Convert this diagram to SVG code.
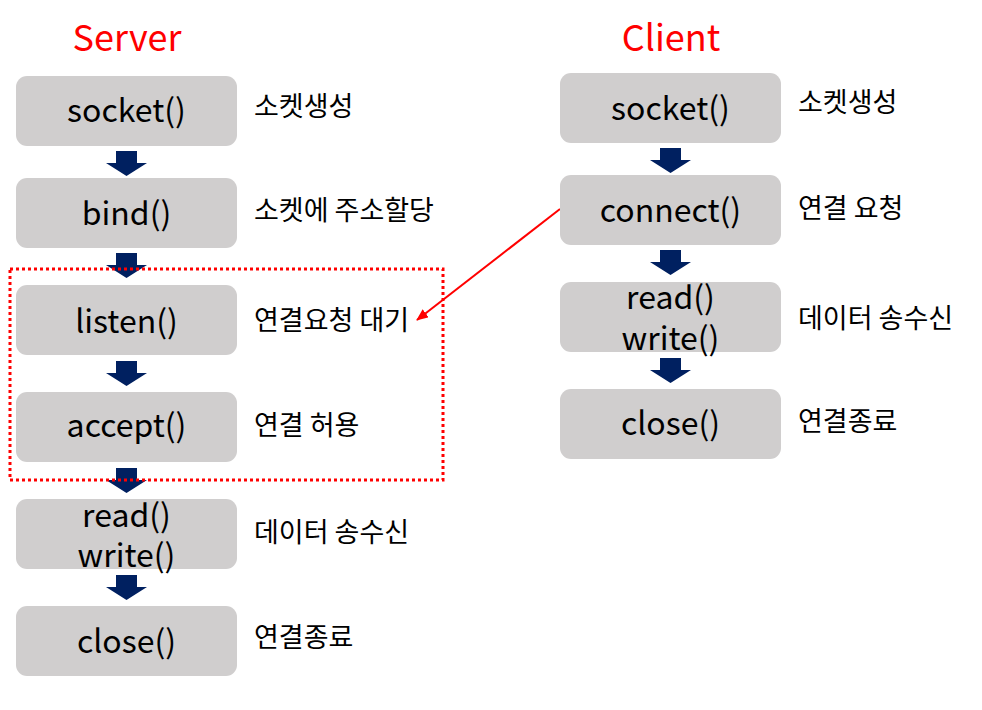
<svg xmlns="http://www.w3.org/2000/svg" xmlns:xlink="http://www.w3.org/1999/xlink" width="982" height="710" viewBox="0 0 982 710">
<style>
.box{fill:#D0CECE}
.fn{font-family:"Noto Sans CJK KR","Noto Sans",sans-serif;font-size:32px;fill:#000;text-anchor:middle}
.lb{font-family:"Noto Sans CJK KR",sans-serif;font-size:27px;fill:#000}
.ttl{font-family:"Noto Sans CJK KR","Noto Sans",sans-serif;font-size:36px;fill:#FF0000;text-anchor:middle}
</style>
<defs>
<path id="darr" d="M-10.5,0 H10.5 V12 H20.5 L0,25 L-20.5,12 H-10.5 Z" fill="#002060"/>
<marker id="ah" markerWidth="12" markerHeight="10" refX="11" refY="5" orient="auto" markerUnits="userSpaceOnUse">
<path d="M0,0 L12,5 L0,10 Z" fill="#FF0000"/>
</marker>
</defs>
<rect width="982" height="710" fill="#fff"/>
<text class="ttl" x="127" y="51">Server</text>
<text class="ttl" x="671" y="51">Client</text>

<g id="connectors">
<use xlink:href="#darr" x="126.5" y="151"/>
<use xlink:href="#darr" x="126.5" y="253"/>
<use xlink:href="#darr" x="126.5" y="361"/>
<use xlink:href="#darr" x="126.5" y="468"/>
<use xlink:href="#darr" x="126.5" y="575"/>
<use xlink:href="#darr" x="670.5" y="148"/>
<use xlink:href="#darr" x="670.5" y="250"/>
<use xlink:href="#darr" x="670.5" y="358"/>
<line x1="560" y1="209" x2="417" y2="320" stroke="#FF0000" stroke-width="2" marker-end="url(#ah)"/>
</g>

<g id="s-socket"><rect class="box" x="16" y="76" width="221" height="70" rx="11"/><text class="fn" x="126.5" y="122">socket()</text><text class="lb" x="254" y="116">소켓생성</text></g>
<g id="s-bind"><rect class="box" x="16" y="178" width="221" height="70" rx="11"/><text class="fn" x="126.5" y="225">bind()</text><text class="lb" x="254" y="220">소켓에 주소할당</text></g>
<g id="s-listen"><rect class="box" x="16" y="285" width="221" height="70" rx="11"/><text class="fn" x="126.5" y="333">listen()</text><text class="lb" x="254" y="330">연결요청 대기</text></g>
<g id="s-accept"><rect class="box" x="16" y="392" width="221" height="70" rx="11"/><text class="fn" x="126.5" y="437">accept()</text><text class="lb" x="254" y="435">연결 허용</text></g>
<g id="s-rw"><rect class="box" x="16" y="499" width="221" height="70" rx="11"/><text class="fn" x="126.5" y="527">read()</text><text class="fn" x="126.5" y="567">write()</text><text class="lb" x="254" y="542">데이터 송수신</text></g>
<g id="s-close"><rect class="box" x="16" y="606" width="221" height="70" rx="11"/><text class="fn" x="126.5" y="653">close()</text><text class="lb" x="254" y="647">연결종료</text></g>

<g id="c-socket"><rect class="box" x="560" y="73" width="221" height="70" rx="11"/><text class="fn" x="670.5" y="120">socket()</text><text class="lb" x="798" y="112">소켓생성</text></g>
<g id="c-connect"><rect class="box" x="560" y="175" width="221" height="70" rx="11"/><text class="fn" x="670.5" y="222">connect()</text><text class="lb" x="798" y="218">연결 요청</text></g>
<g id="c-rw"><rect class="box" x="560" y="282" width="221" height="70" rx="11"/><text class="fn" x="670.5" y="309">read()</text><text class="fn" x="670.5" y="350">write()</text><text class="lb" x="798" y="328">데이터 송수신</text></g>
<g id="c-close"><rect class="box" x="560" y="389" width="221" height="70" rx="11"/><text class="fn" x="670.5" y="435">close()</text><text class="lb" x="798" y="431">연결종료</text></g>

<rect id="group-box" x="10" y="269" width="433" height="211" fill="none" stroke="#FF0000" stroke-width="3" stroke-dasharray="3,3"/>
</svg>
